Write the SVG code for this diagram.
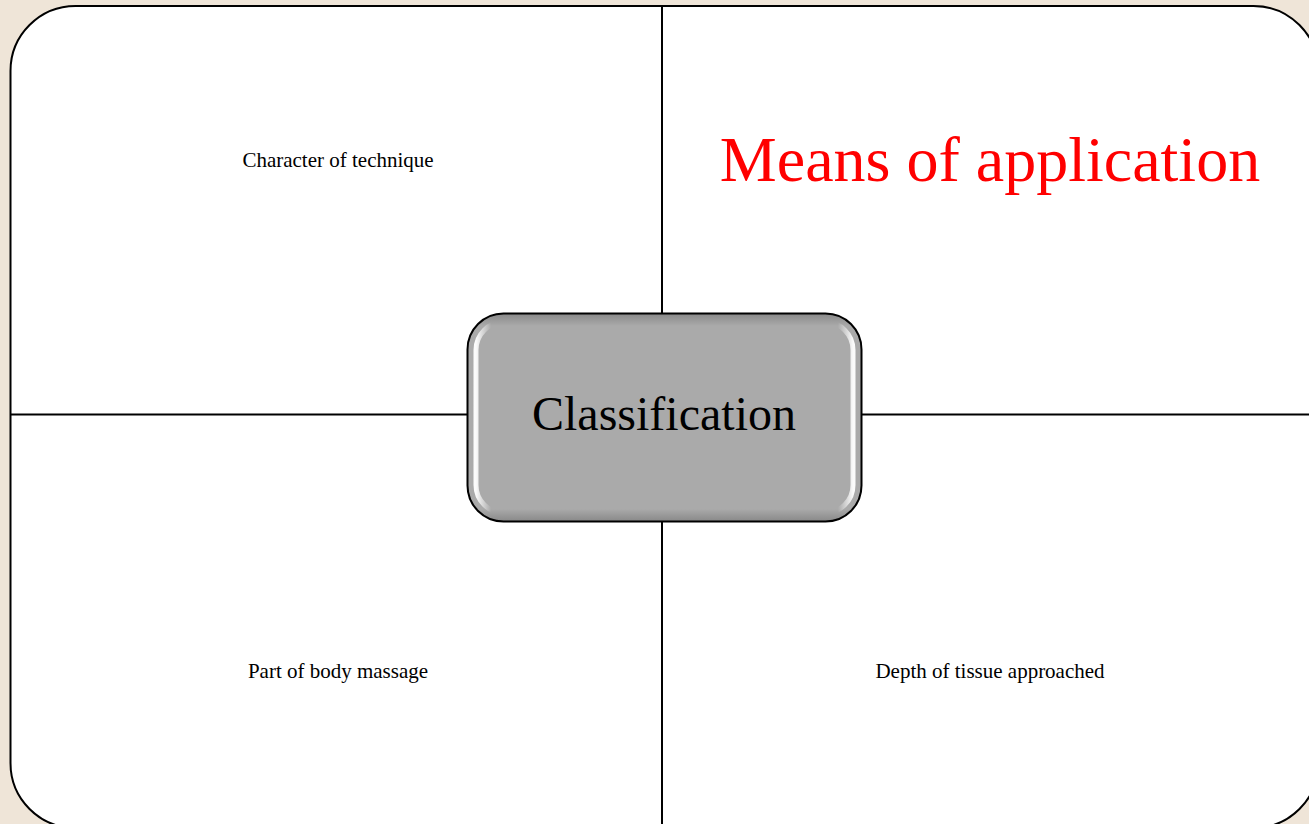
<svg xmlns="http://www.w3.org/2000/svg" width="1309" height="824" viewBox="0 0 1309 824">
<style>
.lbl{font-family:"Liberation Serif","Times New Roman",serif;fill:#000;text-anchor:middle}
.line{stroke:#000;stroke-width:2;fill:none}
</style>
<defs>
<linearGradient id="gloss" x1="0" y1="0" x2="1" y2="0">
<stop offset="0" stop-color="#fff" stop-opacity="0.95"/>
<stop offset="0.04" stop-color="#fff" stop-opacity="0"/>
<stop offset="0.96" stop-color="#fff" stop-opacity="0"/>
<stop offset="1" stop-color="#fff" stop-opacity="0.95"/>
</linearGradient>
<linearGradient id="shade" x1="0" y1="0" x2="0" y2="1">
<stop offset="0" stop-color="#888"/>
<stop offset="0.06" stop-color="#aaa"/>
<stop offset="0.94" stop-color="#aaa"/>
<stop offset="1" stop-color="#888"/>
</linearGradient>
</defs>
<rect x="0" y="0" width="1309" height="824" fill="#efe5d8"/>
<g id="frame">
<rect x="10.5" y="6" width="1308" height="822" rx="65" ry="65" fill="#fff" stroke="#000" stroke-width="2"/>
</g>
<g id="connectors">
<line class="line" x1="662" y1="6" x2="662" y2="314"/>
<line class="line" x1="662" y1="521" x2="662" y2="824"/>
<line class="line" x1="10.5" y1="414.5" x2="468" y2="414.5"/>
<line class="line" x1="861" y1="414.5" x2="1309" y2="414.5"/>
</g>
<g id="center">
<rect x="467.5" y="313.5" width="394" height="208" rx="36" ry="36" fill="url(#shade)" stroke="#000" stroke-width="2"/>
<rect x="476" y="322" width="377" height="191" rx="28" ry="28" fill="none" stroke="url(#gloss)" stroke-width="5"/>
<text class="lbl" x="664" y="430" font-size="48">Classification</text>
</g>
<g id="q1"><text class="lbl" x="338" y="167" font-size="21">Character of technique</text></g>
<g id="q2"><text class="lbl" x="990" y="181" font-size="64" style="fill:#ff0000">Means of application</text></g>
<g id="q3"><text class="lbl" x="338" y="678" font-size="21">Part of body massage</text></g>
<g id="q4"><text class="lbl" x="990" y="678" font-size="21">Depth of tissue approached</text></g>
</svg>
